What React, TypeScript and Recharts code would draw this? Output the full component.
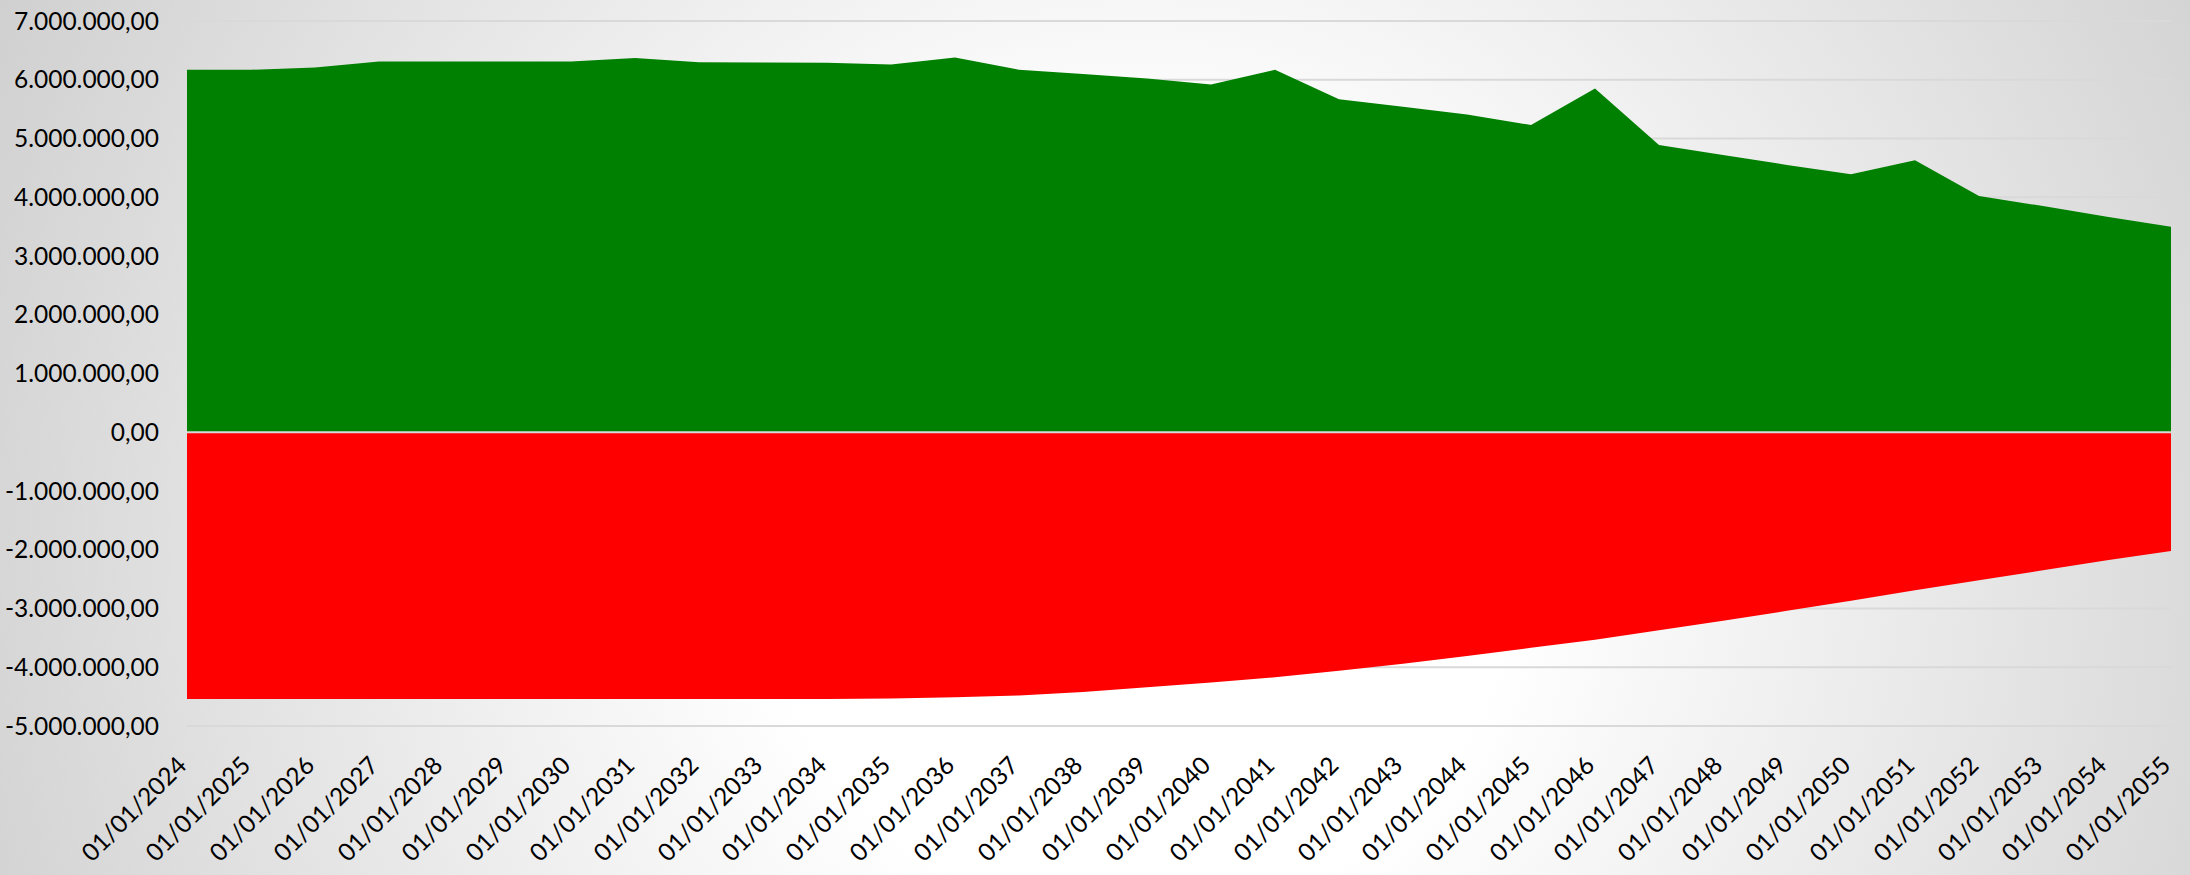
import React from "react";
import {
  AreaChart,
  Area,
  XAxis,
  YAxis,
  CartesianGrid,
  ReferenceLine,
} from "recharts";

const dates = [
  "01/01/2024", "01/01/2025", "01/01/2026", "01/01/2027", "01/01/2028",
  "01/01/2029", "01/01/2030", "01/01/2031", "01/01/2032", "01/01/2033",
  "01/01/2034", "01/01/2035", "01/01/2036", "01/01/2037", "01/01/2038",
  "01/01/2039", "01/01/2040", "01/01/2041", "01/01/2042", "01/01/2043",
  "01/01/2044", "01/01/2045", "01/01/2046", "01/01/2047", "01/01/2048",
  "01/01/2049", "01/01/2050", "01/01/2051", "01/01/2052", "01/01/2053",
  "01/01/2054", "01/01/2055",
];

// positive balance (green)
const assets = [
  6170000, 6170000, 6210000, 6310000, 6310000, 6310000, 6310000, 6370000,
  6300000, 6295000, 6290000, 6260000, 6380000, 6170000, 6100000, 6020000,
  5920000, 6170000, 5670000, 5540000, 5410000, 5230000, 5850000, 4890000,
  4720000, 4550000, 4390000, 4630000, 4020000, 3850000, 3670000, 3500000,
];

// debt (red)
const debt = [
  -4540000, -4540000, -4540000, -4540000, -4540000, -4540000, -4540000,
  -4540000, -4540000, -4540000, -4540000, -4530000, -4510000, -4480000,
  -4420000, -4340000, -4260000, -4170000, -4060000, -3940000, -3810000,
  -3670000, -3530000, -3370000, -3210000, -3040000, -2870000, -2690000,
  -2520000, -2350000, -2180000, -2020000,
];

const yTicks = [
  -5000000, -4000000, -3000000, -2000000, -1000000, 0, 1000000, 2000000,
  3000000, 4000000, 5000000, 6000000, 7000000,
];

const data = dates.map((d, i) => ({ date: d, assets: assets[i], debt: debt[i] }));

const FONT = "Lato, 'Open Sans', sans-serif";
const FONT_SIZE = 24.5;

function formatBR(v: number): string {
  const neg = v < 0;
  const int = Math.round(Math.abs(v)).toString();
  const withDots = int.replace(/\B(?=(\d{3})+(?!\d))/g, ".");
  return (neg ? "-" : "") + withDots + ",00";
}

function DateTick({ x, y, payload }: any) {
  return (
    <text
      x={x + 1}
      y={y}
      transform={`rotate(-45 ${x + 1} ${y})`}
      textAnchor="end"
      fontFamily={FONT}
      fontSize={FONT_SIZE}
      fill="#000"
    >
      {payload.value}
    </text>
  );
}

export default function App() {
  return (
    <div
      style={{
        position: "absolute",
        left: 0,
        top: 0,
        width: 2190,
        height: 875,
        background:
          "radial-gradient(circle farthest-corner at 52% 62%, #ffffff 0%, #ffffff 30%, #d0d0d0 100%)",
      }}
    >
      <AreaChart
        width={2190}
        height={875}
        data={data}
        margin={{ top: 21, right: 19, left: 0, bottom: 0 }}
      >
        <CartesianGrid
          horizontal
          vertical={false}
          stroke="#d9d9d9"
          strokeWidth={2}
        />
        <XAxis
          dataKey="date"
          interval={0}
          height={149}
          axisLine={false}
          tickLine={false}
          tickSize={0}
          tickMargin={41}
          tick={<DateTick />}
        />
        <YAxis
          width={187}
          domain={[-5000000, 7000000]}
          ticks={yTicks}
          axisLine={false}
          tickLine={false}
          tickSize={0}
          tickMargin={28}
          tickFormatter={formatBR}
          tick={{ fontFamily: FONT, fontSize: FONT_SIZE, fill: "#000" }}
        />
        <Area
          type="linear"
          dataKey="assets"
          stroke="none"
          fill="#008000"
          fillOpacity={1}
          isAnimationActive={false}
        />
        <Area
          type="linear"
          dataKey="debt"
          stroke="none"
          fill="#ff0000"
          fillOpacity={1}
          isAnimationActive={false}
        />
        <ReferenceLine y={0} stroke="#d9d9d9" strokeWidth={2} />
      </AreaChart>
    </div>
  );
}
